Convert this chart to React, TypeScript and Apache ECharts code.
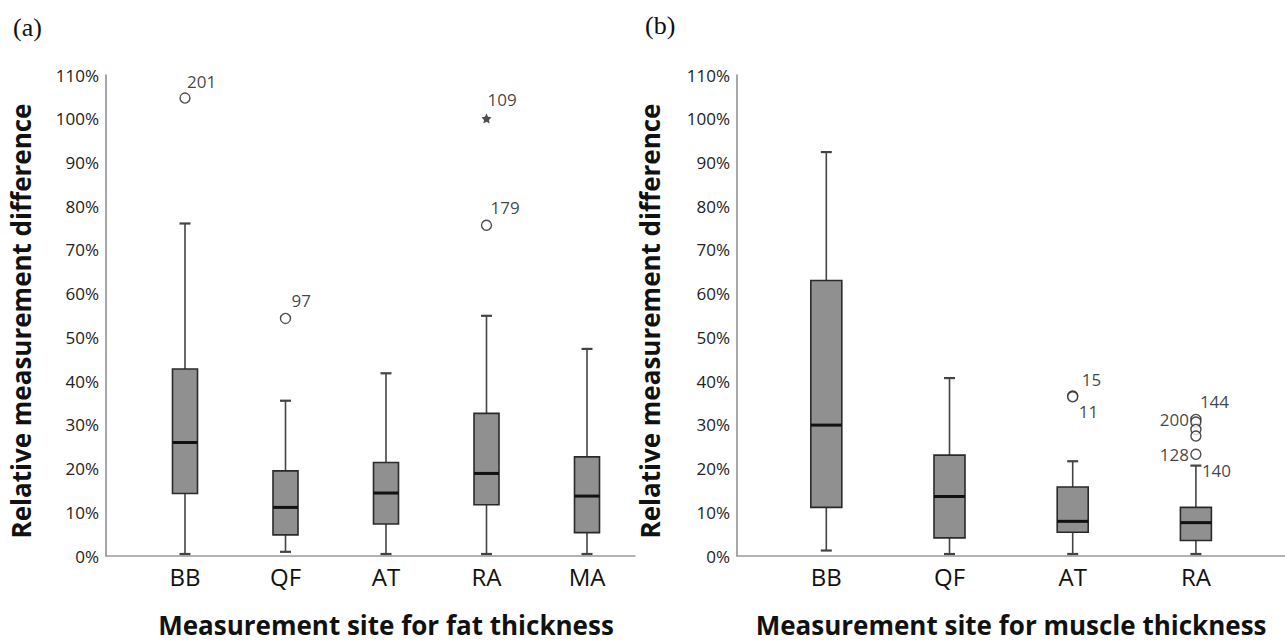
import React, { useEffect, useRef } from "react";
import * as echarts from "echarts";

// ---- Data (percent values) ----
const fatCategories = ["BB", "QF", "AT", "RA", "MA"];
// [min, Q1, median, Q3, max]
const fatBoxes = [
  [0, 13.9, 25.6, 42.5, 75.9],
  [0.5, 4.4, 10.7, 19.1, 35.2],
  [0, 6.9, 14.0, 21.0, 41.5],
  [0, 11.3, 18.5, 32.3, 54.7],
  [0, 4.9, 13.3, 22.3, 47.1],
];
// [categoryIndex, value, label, kind]
const fatOutliers: [number, number, string, string][] = [
  [0, 104.7, "201", "circle"],
  [1, 54.1, "97", "circle"],
  [3, 75.5, "179", "circle"],
  [3, 100.0, "109", "star"],
];

const muscleCategories = ["BB", "QF", "AT", "RA"];
const muscleBoxes = [
  [0.8, 10.7, 29.6, 62.8, 92.3],
  [0, 3.7, 13.2, 22.7, 40.4],
  [0, 5.0, 7.5, 15.4, 21.3],
  [0, 3.1, 7.2, 10.7, 20.3],
];
const muscleOutliers: [number, number, string, string][] = [
  [2, 36.3, "15", "circle"],
  [2, 36.1, "11", "circle"],
  [3, 30.9, "144", "circle"],
  [3, 30.3, "200", "circle"],
  [3, 28.6, "", "circle"],
  [3, 27.1, "", "circle"],
  [3, 22.9, "128", "circle"],
  [3, 20.3, "140", "none"],
];

const yTicksMax = 110;
const yTickStep = 10;

// label offsets per label id (styling only)
const labelPlacement: Record<string, { align: string; offset: number[] }> = {
  "201": { align: "left", offset: [2, -17] },
  "97": { align: "left", offset: [6, -18] },
  "179": { align: "left", offset: [4, -18] },
  "109": { align: "left", offset: [1, -19] },
  "15": { align: "left", offset: [9, -16] },
  "11": { align: "left", offset: [6, 15] },
  "144": { align: "left", offset: [4, -18] },
  "200": { align: "right", offset: [-7, -3] },
  "128": { align: "right", offset: [-7, 0] },
  "140": { align: "left", offset: [6, 5] },
};

const STAR =
  "path://M0,-10 L2.9,-4 L9.5,-3.1 L4.8,1.5 L5.9,8.1 L0,5 L-5.9,8.1 L-4.8,1.5 L-9.5,-3.1 L-2.9,-4 Z";

const FONT = '"Open Sans", "DejaVu Sans", sans-serif';

function boxRenderer(boxW: number) {
  return (params: any, api: any) => {
    const x = api.value(0);
    const lo = api.coord([x, api.value(1)]);
    const q1 = api.coord([x, api.value(2)]);
    const md = api.coord([x, api.value(3)]);
    const q3 = api.coord([x, api.value(4)]);
    const hi = api.coord([x, api.value(5)]);
    const cx = lo[0];
    const cap = 11;
    const wStyle = { stroke: "#444", lineWidth: 1.6 };
    return {
      type: "group",
      children: [
        { type: "line", shape: { x1: cx, y1: lo[1], x2: cx, y2: q1[1] }, style: wStyle },
        { type: "line", shape: { x1: cx, y1: q3[1], x2: cx, y2: hi[1] }, style: wStyle },
        { type: "line", shape: { x1: cx - cap / 2, y1: lo[1], x2: cx + cap / 2, y2: lo[1] }, style: { stroke: "#444", lineWidth: 2.2 } },
        { type: "line", shape: { x1: cx - cap / 2, y1: hi[1], x2: cx + cap / 2, y2: hi[1] }, style: { stroke: "#444", lineWidth: 2.2 } },
        {
          type: "rect",
          shape: { x: cx - boxW / 2, y: q3[1], width: boxW, height: q1[1] - q3[1] },
          style: { fill: "#909090", stroke: "#2a2a2a", lineWidth: 1.6 },
        },
        { type: "line", shape: { x1: cx - boxW / 2, y1: md[1], x2: cx + boxW / 2, y2: md[1] }, style: { stroke: "#111", lineWidth: 3 } },
      ],
    };
  };
}

function outlierData(list: [number, number, string, string][]) {
  return list.map(([c, v, lab, kind]) => {
    const p = labelPlacement[lab];
    return {
      value: [c, v],
      symbol: kind === "star" ? STAR : "circle",
      symbolSize: kind === "none" ? 0 : kind === "star" ? 10 : 10,
      itemStyle:
        kind === "star"
          ? { color: "#222", borderWidth: 0 }
          : { color: "#fff", borderColor: "#222", borderWidth: 1.4 },
      label: lab
        ? {
            show: true,
            formatter: lab,
            position: "inside",
            align: p.align,
            verticalAlign: "middle",
            offset: p.offset,
            fontFamily: FONT,
            fontSize: 17,
            color: "#111",
          }
        : { show: false },
    };
  });
}

export default function App() {
  const ref = useRef<HTMLDivElement>(null);
  useEffect(() => {
    document.body.style.margin = "0";
    if (!ref.current) return;
    const chart = echarts.init(ref.current, undefined, { renderer: "svg" });
    const top = 75;
    const bottom = 87;
    const outerX = (gridIndex: number) => ({
      gridIndex,
      type: "value",
      min: 0,
      max: 1,
      axisLine: { show: true, lineStyle: { color: "#9a9a9a", width: 1.5 } },
      axisTick: { show: false },
      axisLabel: { show: false },
      splitLine: { show: false },
    });
    const innerX = (gridIndex: number, data: string[], name: string) => ({
      gridIndex,
      type: "category",
      data,
      axisLine: { show: false },
      axisTick: { show: false },
      axisLabel: { fontFamily: FONT, fontSize: 24, color: "#111", margin: 10 },
      name,
      nameLocation: "middle",
      nameGap: 58,
      nameTextStyle: { fontFamily: FONT, fontSize: 26, fontWeight: "bold", color: "#111" },
      splitLine: { show: false },
    });
    const outerY = (gridIndex: number) => ({
      gridIndex,
      type: "value",
      min: 0,
      max: yTicksMax,
      interval: yTickStep,
      axisLine: { show: true, lineStyle: { color: "#8a8a8a", width: 1.5 } },
      axisTick: { show: false },
      axisLabel: { formatter: "{value}%", fontFamily: FONT, fontSize: 17, color: "#222", margin: 7 },
      splitLine: { show: false },
    });
    const innerY = (gridIndex: number) => ({
      gridIndex,
      type: "value",
      min: 0,
      max: yTicksMax,
      show: false,
    });
    chart.setOption({
      animation: false,
      backgroundColor: "#fff",
      grid: [
        { left: 106, right: 650, top, bottom },
        { left: 134.75, right: 647.75, top, bottom },
        { left: 737, right: 0, top, bottom },
        { left: 764.7, right: 27.5, top, bottom },
      ],
      xAxis: [
        outerX(0),
        innerX(1, fatCategories, "Measurement site for fat thickness"),
        outerX(2),
        innerX(3, muscleCategories, "Measurement site for muscle thickness"),
      ],
      yAxis: [outerY(0), innerY(1), outerY(2), innerY(3)],
      graphic: [
        { type: "text", x: 13, y: 27, style: { text: "(a)", font: '26px "Liberation Serif", serif', fill: "#111", textVerticalAlign: "middle" } },
        { type: "text", x: 645, y: 25, style: { text: "(b)", font: '26px "Liberation Serif", serif', fill: "#111", textVerticalAlign: "middle" } },
        {
          type: "text",
          x: 21,
          y: 321,
          rotation: Math.PI / 2,
          style: { text: "Relative measurement difference", font: 'bold 26px "Open Sans", sans-serif', fill: "#111", textAlign: "center", textVerticalAlign: "middle" },
        },
        {
          type: "text",
          x: 650,
          y: 321,
          rotation: Math.PI / 2,
          style: { text: "Relative measurement difference", font: 'bold 26px "Open Sans", sans-serif', fill: "#111", textAlign: "center", textVerticalAlign: "middle" },
        },
      ],
      series: [
        {
          type: "custom",
          xAxisIndex: 1,
          yAxisIndex: 1,
          renderItem: boxRenderer(25),
          encode: { x: 0, y: [1, 2, 3, 4, 5] },
          data: fatBoxes.map((b, i) => [i, ...b]),
          z: 2,
        },
        {
          type: "scatter",
          xAxisIndex: 1,
          yAxisIndex: 1,
          data: outlierData(fatOutliers),
          z: 3,
        },
        {
          type: "custom",
          xAxisIndex: 3,
          yAxisIndex: 3,
          renderItem: boxRenderer(31),
          encode: { x: 0, y: [1, 2, 3, 4, 5] },
          data: muscleBoxes.map((b, i) => [i, ...b]),
          z: 2,
        },
        {
          type: "scatter",
          xAxisIndex: 3,
          yAxisIndex: 3,
          data: outlierData(muscleOutliers),
          z: 3,
        },
      ],
    });
    return () => chart.dispose();
  }, []);
  return <div ref={ref} style={{ width: 1285, height: 643 }} />;
}
